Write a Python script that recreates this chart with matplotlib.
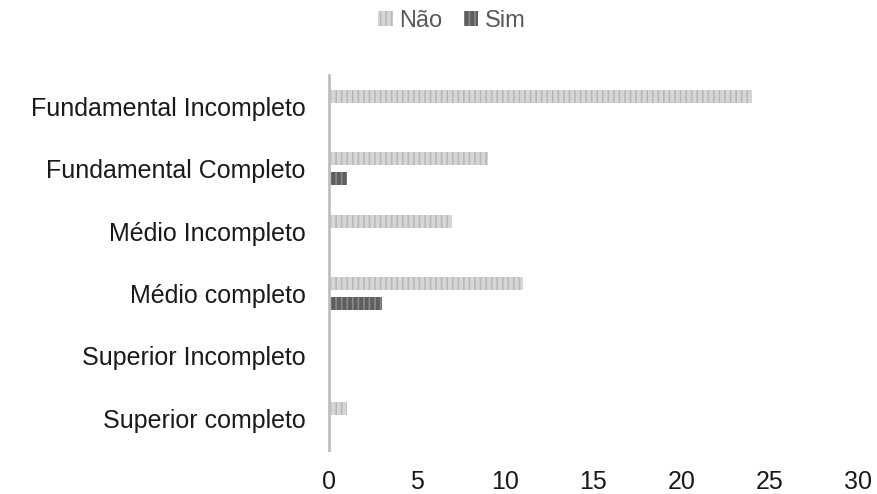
import matplotlib
matplotlib.use("Agg")
import matplotlib.pyplot as plt
import numpy as np

plt.rcParams['font.family'] = ['Liberation Sans', 'DejaVu Sans']
plt.rcParams['hatch.linewidth'] = 1.2

categories = ["Fundamental Incompleto", "Fundamental Completo", "Médio Incompleto",
              "Médio completo", "Superior Incompleto", "Superior completo"]
nao = [24, 9, 7, 11, 0, 1]
sim = [0, 1, 0, 3, 0, 0]
series_names = ["Não", "Sim"]
xticks = [0, 5, 10, 15, 20, 25, 30]

fig = plt.figure(figsize=(8.78, 4.94), dpi=100)
ax = fig.add_axes([0.3747, 0.09, 0.6023, 0.758])

y = np.arange(len(categories))
h = 0.21
off = 0.16
b1 = ax.barh(y - off, nao, height=h, facecolor="#d6d6d6", edgecolor="#b8b8b8",
             hatch="|||", linewidth=0, label=series_names[0])
b2 = ax.barh(y + off, sim, height=h, facecolor="#5e5e5e", edgecolor="#8a8a8a",
             hatch="|||", linewidth=0, label=series_names[1])

ax.set_ylim(len(categories) - 0.5, -0.5)
ax.set_xlim(0, 30)
ax.set_yticks(y)
ax.set_yticklabels(categories, fontsize=18, color="#1a1a1a")
ax.set_xticks(xticks)
ax.set_xticklabels([str(t) for t in xticks], fontsize=18, color="#1a1a1a")
ax.tick_params(axis='both', length=0)
ax.tick_params(axis='y', pad=17)
ax.tick_params(axis='x', pad=15)

for s in ["top", "right", "bottom"]:
    ax.spines[s].set_visible(False)
ax.spines["left"].set_color("#bfbfbf")
ax.spines["left"].set_linewidth(2.0)

leg = fig.legend(handles=[b1, b2], labels=series_names, loc="center",
                 bbox_to_anchor=(0.515, 0.957), ncol=2, frameon=False,
                 fontsize=17, handlelength=0.6, handleheight=0.6,
                 handletextpad=0.3, columnspacing=0.9)
for t in leg.get_texts():
    t.set_color("#595959")

fig.savefig("out.png", dpi=100)
